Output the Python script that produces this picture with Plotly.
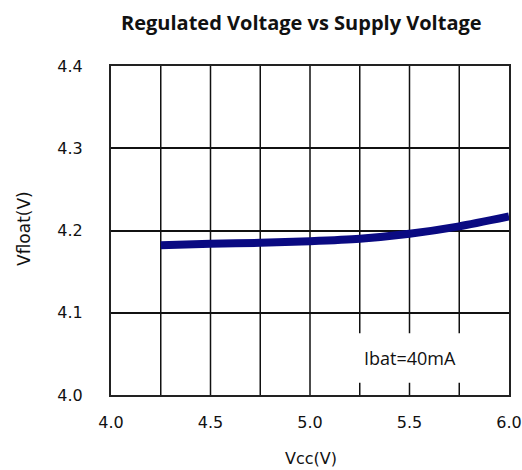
import plotly.graph_objects as go

vcc = [4.25, 4.5, 4.75, 5.0, 5.25, 5.5, 5.75, 6.0]
vfloat = [4.182, 4.184, 4.185, 4.187, 4.190, 4.196, 4.205, 4.217]
x_ticks = [4.0, 4.5, 5.0, 5.5, 6.0]
x_tick_labels = ["4.0", "4.5", "5.0", "5.5", "6.0"]
y_ticks = [4.0, 4.1, 4.2, 4.3, 4.4]
y_tick_labels = ["4.0", "4.1", "4.2", "4.3", "4.4"]
note_text = "Ibat=40mA"

W, H = 522, 470
L, R, T, B = 111, 13, 66, 75
PW, PH = W - L - R, H - T - B


def px(xp):
    return (xp - L) / PW


def py(yp):
    return (H - B - yp) / PH


fig = go.Figure()
fig.add_trace(go.Scatter(x=vcc, y=vfloat, mode="lines", line=dict(color="#0a0a82", width=8, shape="spline", smoothing=0.6),
                         showlegend=False, hoverinfo="skip"))

tickfont = dict(family="DejaVu Sans", size=16, color="#111111")
fig.update_layout(
    width=W, height=H,
    margin=dict(l=L, r=R, t=T, b=B, autoexpand=False),
    paper_bgcolor="white", plot_bgcolor="white",
    xaxis=dict(range=[4.0, 6.0], tickvals=x_ticks, ticktext=x_tick_labels, tickfont=tickfont,
               showgrid=False, automargin=False,
               showline=True, linecolor="#222222", linewidth=2, mirror=True, ticks="", ticklabelstandoff=12,
               zeroline=False),
    yaxis=dict(range=[4.0, 4.4], tickvals=y_ticks, ticktext=y_tick_labels, tickfont=tickfont,
               showgrid=True, gridcolor="#111111", gridwidth=1.5, automargin=False,
               showline=True, linecolor="#222222", linewidth=2, mirror=True, ticks="", ticklabelstandoff=23,
               zeroline=False),
)
# vertical grid at every 0.25
for xv in [4.25, 4.5, 4.75, 5.0, 5.25, 5.5, 5.75]:
    fig.add_shape(type="line", xref="x", yref="paper", x0=xv, x1=xv, y0=0, y1=1,
                  line=dict(color="#111111", width=1.5), layer="below")
fig.add_shape(type="rect", xref="x", yref="y", x0=5.1, x1=5.98, y0=4.015, y1=4.075,
              fillcolor="white", line=dict(width=0), layer="below")
fig.add_annotation(x=5.5, y=4.045, xref="x", yref="y", text=note_text, showarrow=False,
                   font=dict(family="Open Sans", size=18, color="#111111"))
# titles
fig.add_annotation(x=px(301), y=py(22), xref="paper", yref="paper", yanchor="middle", xanchor="center",
                   text="<b>Regulated Voltage vs Supply Voltage</b>", showarrow=False,
                   font=dict(family="Open Sans", size=20, color="#111111"))
fig.add_annotation(x=px(311), y=py(458), xref="paper", yref="paper",
                   xanchor="center", yanchor="middle", text="Vcc(V)", showarrow=False,
                   font=dict(family="DejaVu Sans", size=16, color="#111111"))
fig.add_annotation(x=px(24), y=py(229), xref="paper", yref="paper",
                   xanchor="center", yanchor="middle", text="Vfloat(V)", showarrow=False, textangle=-90,
                   font=dict(family="DejaVu Sans", size=17, color="#111111"))
fig.write_html("out.html", config={"displayModeBar": False},
               post_script="document.body.style.margin='0';")
